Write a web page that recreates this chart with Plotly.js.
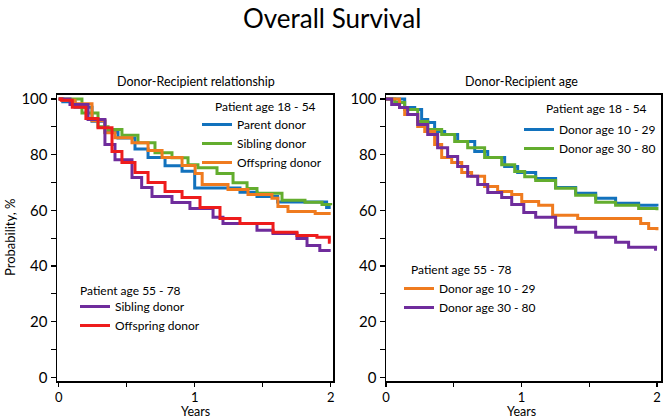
<!DOCTYPE html>
<html>
<head>
<meta charset="utf-8">
<script src="https://cdn.plot.ly/plotly-3.0.1.min.js"></script>
<style>
  html, body { margin: 0; padding: 0; background: #fff; }
  #chart { width: 665px; height: 420px; }
</style>
</head>
<body>
<div id="chart"></div>
<script>
// Left panel: Donor-Recipient relationship
const relParentT = [0, 0.03, 0.12, 0.245, 0.34, 0.436, 0.561, 0.657, 0.782, 0.907, 1.0, 1.333, 1.458, 1.61, 1.97, 2.0];
const relParentS = [100, 99, 97, 92, 88, 86, 82, 79, 76, 74, 68, 66.5, 65, 63, 61, 61];
const relSiblingT = [0, 0.03, 0.171, 0.289, 0.363, 0.465, 0.583, 0.708, 0.833, 0.951, 1.024, 1.164, 1.282, 1.385, 1.458, 1.642, 1.811, 1.936, 2.0];
const relSiblingS = [100, 100, 95, 90, 89, 87, 84.3, 80.7, 78.9, 76.4, 75.3, 73.2, 69.9, 67.8, 66.1, 63.6, 62.9, 62.1, 61.8];
const relOffspringT = [0, 0.03, 0.12, 0.245, 0.34, 0.414, 0.539, 0.657, 0.76, 0.907, 1.003, 1.055, 1.245, 1.392, 1.568, 1.612, 1.686, 1.886, 2.0];
const relOffspringS = [100, 99.5, 98.3, 92.2, 87.9, 86.1, 84.3, 81.5, 79, 76.1, 73.2, 69.3, 67.5, 65.7, 64.3, 61.4, 59.6, 58.9, 58.9];
const relOldSiblingT = [0, 0.01, 0.083, 0.216, 0.34, 0.414, 0.539, 0.61, 0.686, 0.833, 0.965, 1.135, 1.208, 1.458, 1.576, 1.752, 1.826, 1.92, 2.0];
const relOldSiblingS = [100, 100, 98, 92.6, 83.6, 78.2, 71.8, 68.2, 65, 62.8, 60.7, 57.5, 55.3, 52.8, 51.7, 49.9, 47.4, 45.6, 45.6];
const relOldOffspringT = [0, 0.02, 0.1, 0.2, 0.289, 0.392, 0.465, 0.561, 0.657, 0.782, 0.907, 1.039, 1.186, 1.333, 1.576, 1.752, 1.899, 1.99, 2.0];
const relOldOffspringS = [100, 99.5, 97, 93, 89.7, 81.1, 77.2, 73.6, 70, 66.8, 64.6, 61, 57.1, 55.3, 52.1, 51, 50.3, 48.5, 48.5];

// Right panel: Donor-Recipient age
const ageYoungT = [0, 0.08, 0.138, 0.212, 0.263, 0.308, 0.359, 0.433, 0.529, 0.655, 0.751, 0.876, 0.972, 1.105, 1.252, 1.4, 1.548, 1.695, 1.865, 2.0];
const ageYoungS = [100, 100, 96.9, 96.2, 92.6, 91.5, 88.3, 87.2, 84.7, 81.1, 79, 75.7, 73.6, 71.4, 68.2, 66.1, 64.3, 62.5, 61.8, 61.4];
const ageOldT = [0, 0.064, 0.138, 0.234, 0.308, 0.411, 0.507, 0.603, 0.728, 0.854, 0.95, 1.024, 1.105, 1.252, 1.4, 1.548, 1.695, 1.865, 2.0];
const ageOldS = [100, 98.7, 96.2, 91.9, 89, 87.2, 84.7, 82.5, 79, 76.4, 73.9, 72.1, 70.7, 67.9, 65.4, 62.9, 61.8, 60.7, 60];
const ageOldPtYoungT = [0, 0.064, 0.1, 0.138, 0.234, 0.286, 0.359, 0.411, 0.485, 0.559, 0.632, 0.728, 0.824, 0.928, 1.002, 1.127, 1.23, 1.415, 1.843, 1.88, 1.939, 2.0];
const ageOldPtYoungS = [100, 100, 96.9, 94.4, 90.1, 88.3, 83.6, 79, 77.2, 73.6, 72.2, 68.6, 66.8, 65.7, 63.2, 61.8, 58.2, 57.1, 57.1, 55.3, 53.5, 52.8];
const ageOldPtOldT = [0, 0.042, 0.1, 0.16, 0.234, 0.308, 0.381, 0.455, 0.529, 0.603, 0.677, 0.751, 0.854, 0.928, 1.017, 1.105, 1.252, 1.4, 1.548, 1.695, 1.791, 1.99, 2.0];
const ageOldPtOldS = [100, 98, 96.9, 94.4, 90.8, 87.2, 82.5, 79.3, 75.7, 72.2, 69.3, 66.4, 64.6, 62.1, 59.2, 57.5, 53.9, 52.1, 50.3, 48.5, 46.7, 46, 46];

const yTickVals = [0, 10, 20, 30, 40, 50, 60, 70, 80, 90, 100];
const yTickText = ['0', '', '20', '', '40', '', '60', '', '80', '', '100'];
const xTickVals = [0, 0.5, 1, 1.5, 2];
const xTickText = ['0', '', '1', '', '2'];

const FONT = 'Lato, "Open Sans", sans-serif';
const blue = '#1272bd', green = '#63ad2e', orange = '#ef7b1f', red = '#ee1c1c', purple = '#6f2c9c';

function km(x, y, name, color, xa, ya, legend) {
  return {
    x: x, y: y, name: name, type: 'scatter', mode: 'lines',
    line: { color: color, width: 3, shape: 'hv' },
    xaxis: xa, yaxis: ya, legend: legend, hoverinfo: 'skip'
  };
}

const data = [
  km(relParentT, relParentS, 'Parent donor', blue, 'x', 'y', 'legend'),
  km(relSiblingT, relSiblingS, 'Sibling donor', green, 'x', 'y', 'legend'),
  km(relOffspringT, relOffspringS, 'Offspring donor', orange, 'x', 'y', 'legend'),
  km(relOldSiblingT, relOldSiblingS, 'Sibling donor', purple, 'x', 'y', 'legend2'),
  km(relOldOffspringT, relOldOffspringS, 'Offspring donor', red, 'x', 'y', 'legend2'),
  km(ageYoungT, ageYoungS, 'Donor age 10 - 29', blue, 'x2', 'y2', 'legend3'),
  km(ageOldT, ageOldS, 'Donor age 30 - 80', green, 'x2', 'y2', 'legend3'),
  km(ageOldPtYoungT, ageOldPtYoungS, 'Donor age 10 - 29', orange, 'x2', 'y2', 'legend4'),
  km(ageOldPtOldT, ageOldPtOldS, 'Donor age 30 - 80', purple, 'x2', 'y2', 'legend4')
];

const axisBase = {
  showline: true, mirror: true, linecolor: '#000', linewidth: 1.5,
  ticks: 'outside', ticklen: 5, tickcolor: '#000', tickwidth: 1.2,
  showgrid: false, zeroline: false, fixedrange: true,
  tickfont: { family: FONT, size: 15, color: '#000' }
};
const xAxisExtra = { ticklen: 4, tickfont: { family: FONT, size: 13, color: '#000' } };

const W = 665, H = 420;
const px = v => v / W;
const py = v => 1 - v / H;

function legendAt(x, y) {
  return {
    x: px(x), y: py(y), xanchor: 'left', yanchor: 'top',
    bgcolor: 'rgba(0,0,0,0)', borderwidth: 0, itemwidth: 30, tracegroupgap: 0,
    font: { family: FONT, size: 12, color: '#000' }
  };
}

function note(text, x, y, size, extra) {
  return Object.assign({
    text: text, xref: 'paper', yref: 'paper', x: px(x), y: py(y),
    xanchor: 'center', yanchor: 'middle', showarrow: false,
    font: { family: FONT, size: size, color: '#000' }
  }, extra || {});
}

const layout = {
  width: W, height: H,
  margin: { l: 0, r: 0, t: 0, b: 0 },
  paper_bgcolor: '#fff', plot_bgcolor: '#fff',
  showlegend: true,
  xaxis: Object.assign({}, axisBase, xAxisExtra, {
    domain: [px(57), px(333)], range: [-0.0125, 2.017], anchor: 'y',
    tickvals: xTickVals, ticktext: xTickText
  }),
  yaxis: Object.assign({}, axisBase, {
    domain: [py(381), py(94.5)], range: [-1.3, 101.6], anchor: 'x',
    tickvals: yTickVals, ticktext: yTickText
  }),
  xaxis2: Object.assign({}, axisBase, xAxisExtra, {
    domain: [px(386), px(661)], range: [0, 2.03], anchor: 'y2',
    tickvals: xTickVals, ticktext: xTickText
  }),
  yaxis2: Object.assign({}, axisBase, {
    domain: [py(381), py(94.5)], range: [-1.3, 101.6], anchor: 'x2',
    tickvals: yTickVals, ticktext: yTickText
  }),
  legend: legendAt(197, 110),
  legend2: legendAt(75, 292),
  legend3: legendAt(519, 115),
  legend4: legendAt(399, 274),
  annotations: [
    note('Overall Survival', 332, 18, 26),
    note('Donor-Recipient relationship', 196, 82, 12.5),
    note('Donor-Recipient age', 521, 82, 12.5),
    note('Probability, %', 10, 238, 13, { textangle: -90 }),
    note('Years', 195, 420, 12.5, { yanchor: 'bottom', borderpad: 0 }),
    note('Years', 521, 420, 12.5, { yanchor: 'bottom', borderpad: 0 }),
    note('Patient age 18 - 54', 213, 106, 12, { xanchor: 'left' }),
    note('Patient age 55 - 78', 78, 290, 12, { xanchor: 'left' }),
    note('Patient age 18 - 54', 544, 109, 12, { xanchor: 'left' }),
    note('Patient age 55 - 78', 409, 269, 12, { xanchor: 'left' })
  ]
};

Plotly.newPlot('chart', data, layout, { staticPlot: true, displayModeBar: false });
</script>
</body>
</html>
